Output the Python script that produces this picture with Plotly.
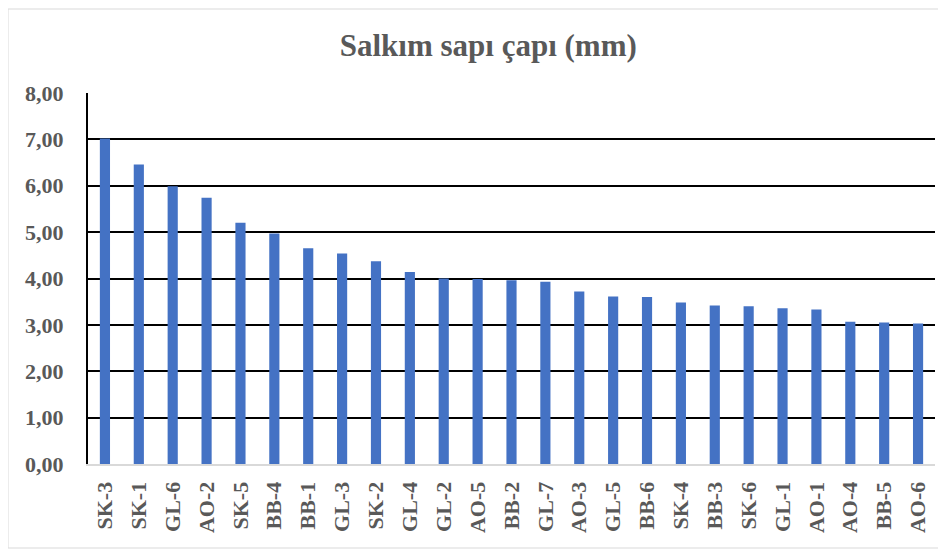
import plotly.graph_objects as go

samples = ["SK-3", "SK-1", "GL-6", "AO-2", "SK-5", "BB-4", "BB-1", "GL-3", "SK-2",
           "GL-4", "GL-2", "AO-5", "BB-2", "GL-7", "AO-3", "GL-5", "BB-6", "SK-4",
           "BB-3", "SK-6", "GL-1", "AO-1", "AO-4", "BB-5", "AO-6"]
diameter = [7.02, 6.46, 5.99, 5.74, 5.20, 4.97, 4.65, 4.54, 4.37,
            4.14, 4.00, 3.99, 3.96, 3.93, 3.72, 3.61, 3.60, 3.48,
            3.42, 3.40, 3.36, 3.33, 3.07, 3.05, 3.03]
y_ticks = [0, 1, 2, 3, 4, 5, 6, 7, 8]

font_family = "Liberation Serif, Times New Roman, serif"

fig = go.Figure()

fig.add_bar(
    x=samples,
    y=diameter,
    marker_color="#4472C4",
    marker_line_width=0,
)

# page body has an 8px margin, so the figure is a little smaller than the window
fig.update_layout(
    title=dict(
        text="<b>Salkım sapı çapı (mm)</b>",
        x=0.512,
        xanchor="center",
        y=0.932,
        yanchor="middle",
        font=dict(family=font_family, size=31, color="#595959"),
    ),
    width=938,
    height=544,
    margin=dict(l=80, r=11, t=85, b=88),
    paper_bgcolor="white",
    plot_bgcolor="white",
    bargap=0.7,
    showlegend=False,
    font=dict(family=font_family, color="#595959"),
)

fig.update_yaxes(
    range=[0, 8],
    tickvals=y_ticks,
    ticktext=[f"<b>{v:.2f}</b>".replace(".", ",") for v in y_ticks],
    tickfont=dict(family=font_family, size=22, color="#595959"),
    showgrid=True,
    gridcolor="black",
    gridwidth=2,
    zeroline=False,
    showline=True,
    linecolor="black",
    linewidth=2,
    ticks="",
    ticklabelstandoff=18,
    automargin=False,
)

fig.update_xaxes(
    tickangle=-90,
    tickvals=samples,
    ticktext=[f"<b>{s}</b>" for s in samples],
    tickfont=dict(family=font_family, size=22, color="#595959"),
    showline=True,
    linecolor="#d9d9d9",
    linewidth=2,
    showgrid=False,
    ticklabelstandoff=7,
    automargin=False,
)

fig.add_shape(
    type="rect",
    xref="paper",
    yref="paper",
    x0=-80 / 847,
    x1=1 + 8 / 847,
    y0=-84 / 371,
    y1=1 + 84 / 371,
    line=dict(color="#d9d9d9", width=1),
)

fig.write_html("out.html")
